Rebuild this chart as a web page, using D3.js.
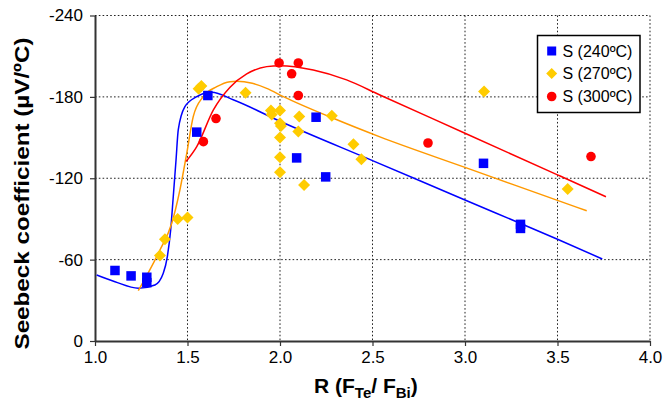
<!DOCTYPE html>
<html>
<head>
<meta charset="utf-8">
<script src="https://cdn.jsdelivr.net/npm/d3@7"></script>
<style>
  html, body { margin: 0; padding: 0; background: #fff; }
  svg { display: block; font-family: "Liberation Sans", Arial, sans-serif; }
</style>
</head>
<body>
<svg id="chart" width="664" height="403"></svg>
<script>
// ---- Data ----
const xTicks = [1.0, 1.5, 2.0, 2.5, 3.0, 3.5, 4.0];
const yTicks = [0, -60, -120, -180, -240];

const seriesNames = ["S (240ºC)", "S (270ºC)", "S (300ºC)"];

// S (240ºC) measured points
const s240R = [1.108, 1.195, 1.28, 1.28, 1.55, 1.61, 2.09, 2.195, 2.247, 3.10, 3.30, 3.30];
const s240S = [-52, -48, -47, -43, -154, -181, -135, -165, -121, -131, -86, -83];

// S (270ºC) measured points
const s270R = [1.351, 1.378, 1.447, 1.50, 1.560, 1.575, 1.814, 1.951, 1.955, 2.0, 2.0, 2.005, 2.0, 2.0, 2.0, 2.104, 2.099, 2.13, 2.28, 2.397, 2.44, 3.103, 3.555];
const s270S = [-63, -75, -90, -91, -186, -188, -183, -170, -167, -170, -160.5, -158.5, -150, -135.5, -124.5, -165.5, -154.5, -115, -166, -145, -134, -184, -112];

// S (300ºC) measured points
const s300R = [1.586, 1.654, 1.995, 2.063, 2.099, 2.099, 2.80, 3.681];
const s300S = [-147, -164, -205, -197, -205, -181, -146, -136];

// Fitted curves
const fit240R = [1.009, 1.108, 1.234, 1.324, 1.369, 1.391, 1.409, 1.423, 1.438, 1.450, 1.486, 1.550, 1.630, 1.750, 2.0, 2.5, 3.0, 3.5, 3.742];
const fit240S = [-48.7, -43.7, -38.9, -41.3, -49.9, -62.2, -81.9, -106.4, -133.5, -155.6, -172.8, -180.2, -183.4, -177.7, -162, -133, -104, -75, -60.5];

const fit270R = [1.234, 1.351, 1.415, 1.459, 1.496, 1.531, 1.585, 1.658, 1.730, 1.766, 1.850, 1.928, 2.018, 2.288, 2.540, 3.0, 3.5, 3.658];
const fit270S = [-37.1, -67.1, -86.8, -111.4, -138.4, -165.4, -180.2, -187.5, -191.2, -191.5, -190, -186.3, -180.2, -164.2, -150.5, -128, -103.7, -96];

const fit300R = [1.492, 1.55, 1.64, 1.73, 1.82, 1.928, 2.0, 2.18, 2.36, 2.54, 3.0, 3.5, 3.762];
const fit300S = [-132.3, -143.3, -170.4, -187.1, -196.9, -202.3, -203, -199.8, -192.5, -181.4, -153.2, -122.5, -106.4];

// ---- Layout ----
const svg = d3.select("#chart");
const L = 95, R = 650, T = 15.5, B = 341;

const x = d3.scaleLinear().domain([1.0, 4.0]).range([L, R]);
const y = d3.scaleLinear().domain([0, -240]).range([B, T]);

// gridlines (dotted)
const grid = svg.append("g");
grid.selectAll("line.gx").data(xTicks.slice(1)).enter().append("line")
  .attr("x1", d => x(d)).attr("x2", d => x(d)).attr("y1", T).attr("y2", B)
  .attr("stroke", "#222").attr("stroke-width", 1).attr("stroke-dasharray", "1.6,2.2");
grid.selectAll("line.gy").data(yTicks.slice(1)).enter().append("line")
  .attr("x1", L).attr("x2", R).attr("y1", d => y(d)).attr("y2", d => y(d))
  .attr("stroke", "#222").attr("stroke-width", 1).attr("stroke-dasharray", "1.6,2.2");

// axes
const fmtY = d => String(d);
const xAxis = d3.axisBottom(x).tickValues(xTicks).tickFormat(d3.format(".1f")).tickSize(5).tickSizeOuter(0);
const yAxis = d3.axisLeft(y).tickValues(yTicks).tickFormat(fmtY).tickSize(5).tickSizeOuter(0);

const gx = svg.append("g").attr("transform", `translate(0,${B})`).call(xAxis);
const gy = svg.append("g").attr("transform", `translate(${L},0)`).call(yAxis);
[gx, gy].forEach(g => {
  g.select(".domain").attr("stroke", "#333").attr("stroke-width", 2);
  g.selectAll(".tick line").attr("stroke", "#333").attr("stroke-width", 1.2);
  g.selectAll(".tick text").attr("fill", "#000").style("font-size", "17px")
   .style("font-family", "'Liberation Sans', Arial, sans-serif");
});
gx.selectAll(".tick text").attr("dy", "1.0em").attr("y", 5);
gy.selectAll(".tick text").attr("x", -12);

// fitted lines
const line = d3.line().x(d => x(d[0])).y(d => y(d[1])).curve(d3.curveMonotoneX);
const fits = [
  { r: fit240R, s: fit240S, color: "#0000ff" },
  { r: fit270R, s: fit270S, color: "#ff9900" },
  { r: fit300R, s: fit300S, color: "#ff0000" }
];
fits.forEach(f => {
  svg.append("path").datum(d3.zip(f.r, f.s))
    .attr("d", line).attr("fill", "none").attr("stroke", f.color).attr("stroke-width", 1.5);
});

// markers
const sq = 9.5, dia = 6, cr = 4.8;
svg.append("g").selectAll("rect").data(d3.zip(s240R, s240S)).enter().append("rect")
  .attr("x", d => x(d[0]) - sq / 2).attr("y", d => y(d[1]) - sq / 2)
  .attr("width", sq).attr("height", sq).attr("fill", "#0000ff");
svg.append("g").selectAll("path").data(d3.zip(s270R, s270S)).enter().append("path")
  .attr("d", d => { const cx = x(d[0]), cy = y(d[1]); return `M${cx},${cy - dia}L${cx + dia},${cy}L${cx},${cy + dia}L${cx - dia},${cy}Z`; })
  .attr("fill", "#ffcc00");
svg.append("g").selectAll("circle").data(d3.zip(s300R, s300S)).enter().append("circle")
  .attr("cx", d => x(d[0])).attr("cy", d => y(d[1])).attr("r", cr).attr("fill", "#ff0000");

// legend
const lg = svg.append("g");
lg.append("rect").attr("x", 537.5).attr("y", 35.5).attr("width", 102.5).attr("height", 77)
  .attr("fill", "#fff").attr("stroke", "#000").attr("stroke-width", 1.5);
const ly = [51, 73.5, 96.5];
lg.append("rect").attr("x", 551.7 - 4.5).attr("y", ly[0] - 4.5).attr("width", 9).attr("height", 9).attr("fill", "#0000ff");
lg.append("path").attr("d", `M551.7,${ly[1] - 5.5}L557.2,${ly[1]}L551.7,${ly[1] + 5.5}L546.2,${ly[1]}Z`).attr("fill", "#ffcc00");
lg.append("circle").attr("cx", 551.7).attr("cy", ly[2]).attr("r", 4.8).attr("fill", "#ff0000");
lg.selectAll("text").data(seriesNames).enter().append("text")
  .attr("x", 562.5).attr("y", (d, i) => ly[i] + 5.5)
  .style("font-size", "16px").text(d => d);

// axis titles
const xt = svg.append("text").attr("x", 314).attr("y", 393)
  .style("font-size", "21px").style("font-weight", "bold");
xt.append("tspan").text("R (F");
xt.append("tspan").attr("dy", 5).style("font-size", "15px").text("Te");
xt.append("tspan").attr("dy", -5).text("/ F");
xt.append("tspan").attr("dy", 5).style("font-size", "15px").text("Bi");
xt.append("tspan").attr("dy", -5).text(")");

svg.append("text").attr("transform", "translate(29,193.5) rotate(-90)")
  .attr("text-anchor", "middle").style("font-size", "21px").style("font-weight", "bold")
  .attr("textLength", 312).attr("lengthAdjust", "spacingAndGlyphs")
  .text("Seebeck coefficient (µV/ºC)");
</script>
</body>
</html>
